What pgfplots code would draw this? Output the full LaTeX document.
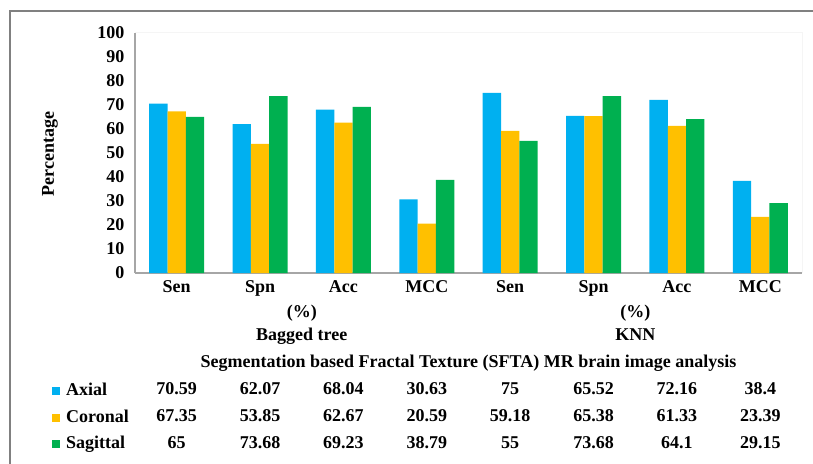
\documentclass[border=0pt]{standalone}
\usepackage{fontspec}
\setmainfont{Liberation Serif}
\usepackage{pgfplots}
\usepackage{pgfplotstable}
\pgfplotsset{compat=1.18}
\definecolor{axial}{RGB}{0,176,240}
\definecolor{coronal}{RGB}{255,192,0}
\definecolor{sagittal}{RGB}{0,176,80}
\definecolor{framegray}{RGB}{128,128,128}
\definecolor{axgray}{RGB}{166,166,166}
\newcommand\lf{\fontsize{18bp}{21bp}\selectfont\bfseries}
\pgfplotstableread{
x axial coronal sagittal
0 70.59 67.35 65
1 62.07 53.85 73.68
2 68.04 62.67 69.23
3 30.63 20.59 38.79
4 75 59.18 55
5 65.52 65.38 73.68
6 72.16 61.33 64.1
7 38.4 23.39 29.15
}\data
\begin{document}
\begin{tikzpicture}
\useasboundingbox (-135bp,-191bp) rectangle (678bp,273bp);
\draw[framegray, line width=2bp] (-125bp,-195bp) -- (-125bp,262bp) -- (690bp,262bp);
\draw[gray!8, line width=1bp] (0,240bp) -- (667bp,240bp) -- (667bp,0);
\begin{axis}[
  at={(0,0)}, anchor=south west,
  scale only axis, width=667bp, height=240bp,
  xmin=-0.5, xmax=7.5, ymin=0, ymax=100,
  clip=false,
  axis lines=left,
  axis line style={-, draw=axgray, line width=1.8bp},
  ytick={0,10,...,100},
  xtick={0,...,7},
  xticklabels={Sen,Spn,Acc,MCC,Sen,Spn,Acc,MCC},
  major tick length=0pt,
  tick style={draw=none},
  /pgf/number format/assume math mode=true,
  every tick label/.append style={font=\lf},
  xticklabel style={anchor=base, yshift=-19bp},
  yticklabel style={xshift=-7bp},
]
\addplot[ybar, bar width=18.3bp, bar shift=-18.3bp, fill=axial, draw=none] table[x=x,y=axial]{\data};
\addplot[ybar, bar width=18.3bp, bar shift=0bp, fill=coronal, draw=none] table[x=x,y=coronal]{\data};
\addplot[ybar, bar width=18.3bp, bar shift=18.3bp, fill=sagittal, draw=none] table[x=x,y=sagittal]{\data};
\addplot[draw=none, mark=none, nodes near coords, point meta=explicit symbolic,
  every node near coord/.append style={anchor=base, font=\lf, inner sep=0pt, text=black}]
  table[x=x, y expr=-50.83, meta=axial]{\data};
\addplot[draw=none, mark=none, nodes near coords, point meta=explicit symbolic,
  every node near coord/.append style={anchor=base, font=\lf, inner sep=0pt, text=black}]
  table[x=x, y expr=-62.08, meta=coronal]{\data};
\addplot[draw=none, mark=none, nodes near coords, point meta=explicit symbolic,
  every node near coord/.append style={anchor=base, font=\lf, inner sep=0pt, text=black}]
  table[x=x, y expr=-72.92, meta=sagittal]{\data};
\end{axis}
\node[rotate=90, font=\lf] at (-85bp,119bp) {Percentage};
\node[anchor=base, font=\lf, inner sep=0pt] at (166.75bp,-44bp) {(\%)};
\node[anchor=base, font=\lf, inner sep=0pt] at (500.25bp,-44bp) {(\%)};
\node[anchor=base, font=\lf, inner sep=0pt] at (166.75bp,-67bp) {Bagged tree};
\node[anchor=base, font=\lf, inner sep=0pt] at (500.25bp,-67bp) {KNN};
\node[anchor=base, font=\lf, inner sep=0pt] at (333.5bp,-94bp) {Segmentation based Fractal Texture (SFTA) MR brain image analysis};
\fill[axial] (-83bp,-122bp) rectangle (-75bp,-114bp);
\node[anchor=base west, font=\lf, inner sep=0pt] at (-69bp,-122bp) {Axial};
\fill[coronal] (-83bp,-149bp) rectangle (-75bp,-141bp);
\node[anchor=base west, font=\lf, inner sep=0pt] at (-69bp,-149bp) {Coronal};
\fill[sagittal] (-83bp,-175bp) rectangle (-75bp,-167bp);
\node[anchor=base west, font=\lf, inner sep=0pt] at (-69bp,-175bp) {Sagittal};
\end{tikzpicture}
\end{document}
